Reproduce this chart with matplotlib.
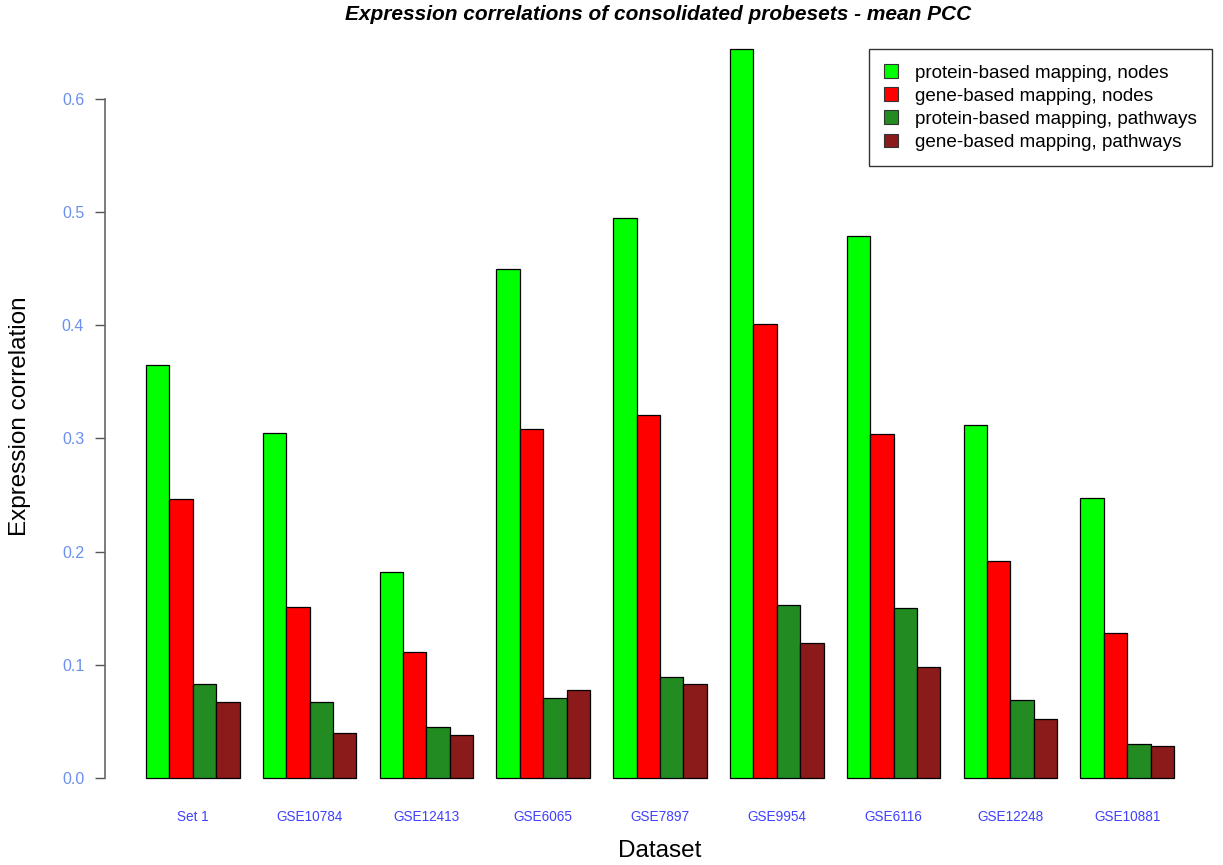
import numpy as np
import matplotlib
matplotlib.use("Agg")
import matplotlib.pyplot as plt
from matplotlib.patches import Patch

plt.rcParams['font.family'] = ['Liberation Sans', 'DejaVu Sans']

datasets = ["Set 1", "GSE10784", "GSE12413", "GSE6065", "GSE7897",
            "GSE9954", "GSE6116", "GSE12248", "GSE10881"]
protein_nodes = [0.365, 0.305, 0.182, 0.450, 0.495, 0.644, 0.479, 0.312, 0.247]
gene_nodes = [0.246, 0.151, 0.111, 0.308, 0.321, 0.401, 0.304, 0.192, 0.128]
protein_pathways = [0.083, 0.067, 0.045, 0.071, 0.089, 0.153, 0.150, 0.069, 0.030]
gene_pathways = [0.067, 0.040, 0.038, 0.078, 0.083, 0.119, 0.098, 0.052, 0.028]

series = [protein_nodes, gene_nodes, protein_pathways, gene_pathways]
series_labels = ["protein-based mapping, nodes", "gene-based mapping, nodes",
                 "protein-based mapping, pathways", "gene-based mapping, pathways"]
colors = ["#00FF00", "#FF0000", "#228B22", "#8B1A1A"]
y_ticks = [0.0, 0.1, 0.2, 0.3, 0.4, 0.5, 0.6]

W, H = 1223, 865
fig = plt.figure(figsize=(W / 100, H / 100), dpi=100)
# plot region in pixels
left, right, top, bottom = 105, 1215, 20, 807
ax = fig.add_axes([left / W, 1 - bottom / H, (right - left) / W, (bottom - top) / H])

n_groups = len(datasets)
n_series = len(series)
group_step = n_series + 1  # one bar-width gap between groups
for s, (vals, col) in enumerate(zip(series, colors)):
    x = 1 + np.arange(n_groups) * group_step + s + 0.5
    ax.bar(x, vals, width=1.0, color=col, edgecolor="black", linewidth=0.9)

total = 1 + n_groups * group_step - 1
pad = 0.04 * (total - 1)
ax.set_xlim(1 - pad, total + pad)
ymax = max(max(v) for v in series)
ax.set_ylim(-0.04 * ymax, ymax * 1.04)

centers = 1 + np.arange(n_groups) * group_step + n_series / 2
ax.set_xticks(centers)
ax.set_xticklabels(datasets, color="#4040FF", fontsize=9.8)
ax.tick_params(axis="x", length=0, pad=2)

ax.set_yticks(y_ticks)
ax.set_yticklabels([f"{t:.1f}" for t in y_ticks], color="#6A8FEF", fontsize=11.5)
ax.tick_params(axis="y", length=7, width=1, color="#555555", pad=8)

for sp in ["top", "right", "bottom"]:
    ax.spines[sp].set_visible(False)
ax.spines["left"].set_bounds(0, 0.6)
ax.spines["left"].set_color("#666666")
ax.spines["left"].set_linewidth(1.2)

fig.text((left + right) / 2 / W, 1 - 851 / H, "Dataset",
         ha="center", va="center", fontsize=17.5)
fig.text(20 / W, 1 - 416 / H, "Expression correlation",
         ha="center", va="center", rotation=90, fontsize=17.5)

fig.text(658 / W, 1 - 14 / H,
         "Expression correlations of consolidated probesets - mean PCC",
         ha="center", va="center", fontsize=15, fontweight="bold", fontstyle="italic")

handles = [Patch(facecolor=c, edgecolor="#333333", linewidth=0.8) for c in colors]
leg = fig.legend(handles, series_labels, loc="upper right",
                 bbox_to_anchor=(1212 / W, 1 - 49 / H), fontsize=13.6,
                 frameon=True, fancybox=False, edgecolor="black",
                 handlelength=0.75, handleheight=0.75, handletextpad=0.9,
                 labelspacing=0.3, borderpad=0.8, borderaxespad=0)
leg.get_frame().set_linewidth(1.0)

fig.savefig("out.png", dpi=100, facecolor="white")
